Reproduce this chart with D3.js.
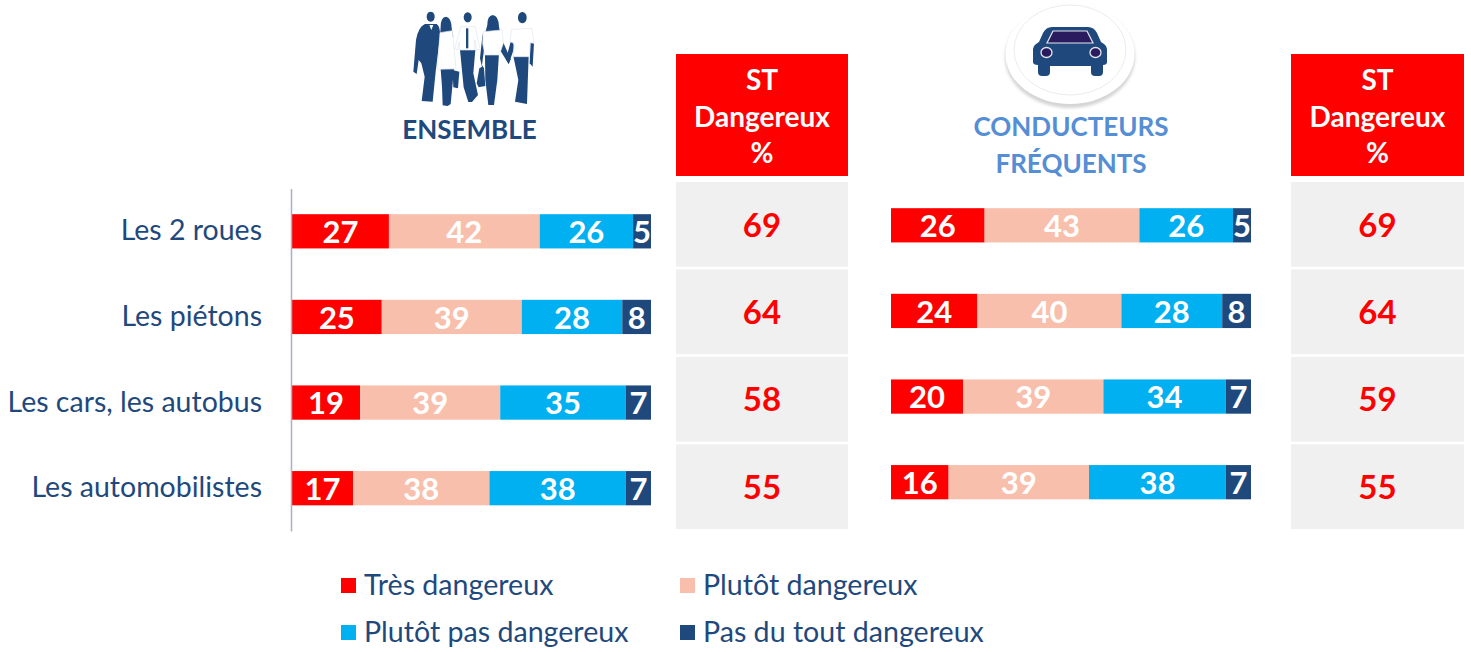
<!DOCTYPE html>
<html><head><meta charset="utf-8">
<script src="https://cdnjs.cloudflare.com/ajax/libs/d3/7.8.5/d3.min.js"></script>
<style>html,body{margin:0;background:#fff}svg{display:block}text{font-family:Lato,Carlito,"Open Sans",sans-serif}</style>
</head><body><svg id="c" width="1471" height="652"></svg>
<script>
const categories = ["Les 2 roues","Les piétons","Les cars, les autobus","Les automobilistes"];
const seriesNames = ["Très dangereux","Plutôt dangereux","Plutôt pas dangereux","Pas du tout dangereux"];
const colors = ["#ff0000","#f8c0ac","#00b0f0","#1f497d"];
const ensembleTres = [27,25,19,17];
const ensemblePlutot = [42,39,39,38];
const ensemblePlutotPas = [26,28,35,38];
const ensemblePasDuTout = [5,8,7,7];
const ensembleST = [69,64,58,55];
const conducteursTres = [26,24,20,16];
const conducteursPlutot = [43,40,39,39];
const conducteursPlutotPas = [26,28,34,38];
const conducteursPasDuTout = [5,8,7,7];
const conducteursST = [69,64,59,55];

const svg = d3.select("#c");
const NAVY="#1f497d";
const xL = d3.scaleLinear().domain([0,100]).range([292,651]);
const xR = d3.scaleLinear().domain([0,100]).range([891,1251]);
const yL = d3.scaleBand().domain(categories).range([188.5,531]).paddingInner(0.6).paddingOuter(0.3);
const yR = d3.scaleBand().domain(categories).range([182.5,525]).paddingInner(0.6).paddingOuter(0.3);
const cellY = d3.scaleBand().domain(categories).range([182,529]).paddingInner(0.03).paddingOuter(0);

function stacked(x,y,series){
  const g=svg.append("g");
  const rows=categories.map((c,i)=>{let s=0;return series.map((v,k)=>{const r={c,k,v:v[i],a:s,b:s+v[i]};s+=v[i];return r;});}).flat();
  g.selectAll("rect").data(rows).join("rect")
    .attr("x",d=>x(d.a)).attr("width",d=>x(d.b)-x(d.a))
    .attr("y",d=>y(d.c)).attr("height",y.bandwidth())
    .attr("fill",d=>colors[d.k]);
  g.selectAll("text").data(rows).join("text")
    .attr("x",d=>(x(d.a)+x(d.b))/2).attr("y",d=>y(d.c)+y.bandwidth()/2+1)
    .attr("dy","0.35em").attr("text-anchor","middle")
    .attr("font-size",31).attr("font-weight",700).attr("fill","#fff").text(d=>d.v);
}
stacked(xL,yL,[ensembleTres,ensemblePlutot,ensemblePlutotPas,ensemblePasDuTout]);
stacked(xR,yR,[conducteursTres,conducteursPlutot,conducteursPlutotPas,conducteursPasDuTout]);

// category axis
const axis = d3.axisLeft(yL).tickSize(0).tickPadding(29);
const ag = svg.append("g").attr("transform","translate(291,0)").call(axis);
ag.select(".domain").attr("stroke","#a6b1c6").attr("stroke-width",1.5);
ag.selectAll("text").attr("font-size",28.5).attr("fill",NAVY).attr("font-family","Lato,Carlito,sans-serif");

function stColumn(x0,w,vals){
  svg.append("rect").attr("x",x0).attr("y",54).attr("width",w).attr("height",122).attr("fill","#ff0000");
  ["ST","Dangereux","%"].forEach((t,i)=>svg.append("text").attr("x",x0+w/2).attr("y",90+i*36.5)
    .attr("text-anchor","middle").attr("font-size",28).attr("font-weight",700).attr("fill","#fff").text(t));
  const g=svg.append("g");
  g.selectAll("rect").data(categories).join("rect").attr("x",x0).attr("width",w)
    .attr("y",c=>cellY(c)).attr("height",cellY.bandwidth()).attr("fill","#f0f0f0");
  g.selectAll("text").data(categories).join("text").attr("x",x0+w/2)
    .attr("y",c=>cellY(c)+cellY.bandwidth()/2).attr("dy","0.37em").attr("text-anchor","middle")
    .attr("font-size",33).attr("font-weight",700).attr("fill","#ff0000")
    .text((c,i)=>vals[i]);
}
stColumn(676,172,ensembleST);
stColumn(1291,173,conducteursST);

// titles
svg.append("text").attr("x",469.5).attr("y",139).attr("text-anchor","middle").attr("font-size",26).attr("font-weight",700).attr("fill",NAVY).text("ENSEMBLE");
["CONDUCTEURS","FRÉQUENTS"].forEach((t,i)=>svg.append("text").attr("x",1071).attr("y",136+i*37).attr("text-anchor","middle")
  .attr("font-size",26).attr("font-weight",700).attr("fill","#558ed5").text(t));

// legend
const legX=[341,680], legY=[585,632];
seriesNames.forEach((n,i)=>{
  const lx=legX[i%2], ly=legY[Math.floor(i/2)];
  svg.append("rect").attr("x",lx).attr("y",ly-7).attr("width",15).attr("height",15).attr("fill",colors[i]);
  svg.append("text").attr("x",lx+23).attr("y",ly+10).attr("font-size",28.6).attr("fill",NAVY).text(n);
});

// car icon
const defs=svg.append("defs");
const f=defs.append("filter").attr("id","sh").attr("x","-20%").attr("y","-20%").attr("width","140%").attr("height","140%");
f.append("feGaussianBlur").attr("stdDeviation",1.5);
const car=svg.append("g");
car.append("ellipse").attr("cx",1070).attr("cy",57).attr("rx",65).attr("ry",51).attr("fill","#d4d4d4").attr("filter","url(#sh)");
car.append("ellipse").attr("cx",1070).attr("cy",54).attr("rx",64.5).attr("ry",50).attr("fill","#fff");
car.append("ellipse").attr("cx",1070).attr("cy",50).attr("rx",56).attr("ry",45).attr("fill","#fff").attr("stroke","#ececec").attr("stroke-width",1);
car.append("path").attr("fill",NAVY).attr("d","M1052 27H1088Q1094 27 1097 33L1101 42L1104 44Q1107 46 1107 49V62Q1107 65 1103 65V72Q1103 76 1099 76H1095Q1091 76 1091 72V66H1050V72Q1050 76 1046 76H1042Q1038 76 1038 72V65Q1033 65 1033 62V49Q1033 46 1036 44L1039 42L1043 33Q1046 27 1052 27Z");
car.append("path").attr("fill","#2a1a5e").attr("stroke","#e6e6ee").attr("stroke-width",1.2).attr("d","M1053 31H1087L1093 43H1047Z");
[1046.5,1095.5].forEach(cx=>car.append("ellipse").attr("cx",cx).attr("cy",52.5).attr("rx",5.5).attr("ry",5).attr("fill","#2a1a5e").attr("stroke","#e6e6ee").attr("stroke-width",1.3));

// people icon (drawn in the 3x crop coordinate frame)
const P=svg.append("g").attr("transform","translate(400,0) scale(0.3333)");
const navyShapes=[
 "M92 35a12 15 0 1 0 .1 0Z",
 "M75 72L110 72Q122 80 120 110L115 150L107 215L98 305L65 303L74 230L64 190L56 180L50 222L40 215L48 120Q55 80 75 72Z",
 "M138 50Q154 52 155 85L160 110L120 110L122 80Q122 52 138 50Z",
 "M122 208L162 208L152 312L143 318L128 316L126 260Z",
 "M158 210L178 215L174 265L160 262Z",
 "M203 37a12 15 0 1 0 .1 0Z",
 "M180 150L226 150L220 220L234 285L216 306L205 306L191 262Z",
 "M278 45Q296 47 297 80L302 105L254 105L262 75Q262 47 278 45Z",
 "M255 165L297 160L292 240L282 315L265 315L256 240Z",
 "M248 100L240 175L246 200L238 205L230 250L236 262L256 258L252 205L246 195L252 150Z",
 "M300 105L332 178L326 192L294 140Z",
 "M367 36a13 17 0 1 0 .1 0Z",
 "M340 168L386 168L381 312L345 305L355 240Z",
 "M334 118L318 178L326 192L344 140Z",
 "M392 125L389 190L398 200L402 130Z"];
const whiteShapes=[
 "M120 98L157 92L168 205L112 208Z",
 "M182 80L226 80L240 148L230 150L224 120L224 150L178 150L178 125L172 150L165 145Z",
 "M250 95L306 90L310 130L298 165L255 165L248 130Z",
 "M334 88L396 85L402 130L390 128L388 170L340 170L342 130L330 125Z"];
P.selectAll("path.n").data(navyShapes).join("path").attr("class","n").attr("d",d=>d).attr("fill",NAVY);
P.selectAll("path.w").data(whiteShapes).join("path").attr("class","w").attr("d",d=>d).attr("fill","#fff").attr("stroke","#dfe5ee").attr("stroke-width",2);
P.append("rect").attr("x",198).attr("y",85).attr("width",7).attr("height",60).attr("fill",NAVY);
P.append("path").attr("d","M88 75L94 90L100 75Z").attr("fill","#fff");
</script></body></html>
